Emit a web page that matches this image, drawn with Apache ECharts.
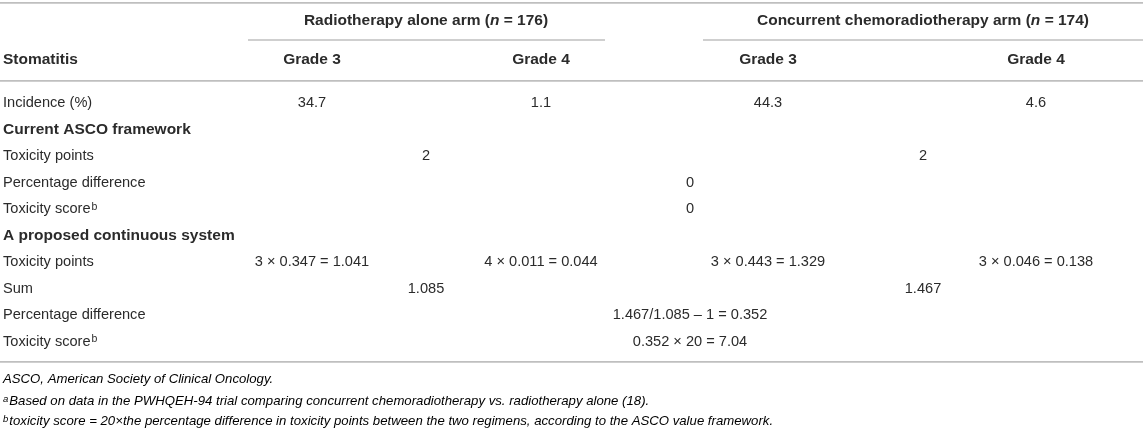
<!DOCTYPE html>
<html>
<head>
<meta charset="utf-8">
<script src="https://cdn.jsdelivr.net/npm/echarts@6/dist/echarts.min.js"></script>
<style>
  html, body { margin: 0; padding: 0; background: #fff; }
  #main { width: 1143px; height: 430px; }
</style>
</head>
<body>
<div id="main"></div>
<script>
// table content
var armTitles = ['Radiotherapy alone arm', 'Concurrent chemoradiotherapy arm'];
var armN = [176, 174];
var grades = ['Grade 3', 'Grade 4', 'Grade 3', 'Grade 4'];
var rowLabels = ['Incidence (%)', 'Current ASCO framework', 'Toxicity points', 'Percentage difference',
  'Toxicity score', 'A proposed continuous system', 'Toxicity points', 'Sum', 'Percentage difference', 'Toxicity score'];
var sectionRows = [1, 5];
var supRows = [4, 9];

var incidence = [34.7, 1.1, 44.3, 4.6];
var ascoPoints = [2, 2];
var ascoPctDiff = 0;
var ascoScore = 0;
var pointWeights = [3, 4, 3, 3];
var incidenceRate = [0.347, 0.011, 0.443, 0.046];
var contPoints = [1.041, 0.044, 1.329, 0.138];
var contSums = [1.085, 1.467];
var contPctDiff = 0.352;
var scoreFactor = 20;
var contScore = 7.04;

// layout (x in units of the hidden value axis)
var colX = [312, 541, 768, 1036];
var armX = [426, 923];
var allX = 690;
var FONT = '"Liberation Sans", Arial, Helvetica, sans-serif';
var TXT = '#2b2b2b';
var RULE = '#bfbfbf';
var FS = 14.6, FSB = 15.5, FSN = 13.2;

// header cells (grid 0) and body cells (grid 1)
var headCells = [];
armTitles.forEach(function (t, a) {
  headCells.push({ row: 0, x: armX[a], text: '{b|' + t + ' (}{bi|n}{b| = ' + armN[a] + ')}' });
});
grades.forEach(function (g, i) {
  headCells.push({ row: 1, x: colX[i], text: '{b|' + g + '}' });
});

var bodyCells = [];
incidence.forEach(function (v, i) { bodyCells.push({ row: 0, x: colX[i], text: v.toFixed(1) }); });
ascoPoints.forEach(function (v, a) { bodyCells.push({ row: 2, x: armX[a], text: String(v) }); });
bodyCells.push({ row: 3, x: allX, text: String(ascoPctDiff) });
bodyCells.push({ row: 4, x: allX, text: String(ascoScore) });
contPoints.forEach(function (p, i) {
  bodyCells.push({ row: 6, x: colX[i], text: pointWeights[i] + ' \u00d7 ' + incidenceRate[i].toFixed(3) + ' = ' + p.toFixed(3) });
});
contSums.forEach(function (s, a) { bodyCells.push({ row: 7, x: armX[a], text: s.toFixed(3) }); });
bodyCells.push({ row: 8, x: allX, text: contSums[1].toFixed(3) + '/' + contSums[0].toFixed(3) + ' \u2013 1 = ' + contPctDiff.toFixed(3) });
bodyCells.push({ row: 9, x: allX, text: contPctDiff.toFixed(3) + ' \u00d7 ' + scoreFactor + ' = ' + contScore.toFixed(2) });

// horizontal rules: [x0, row, x1, offset in bands from row centre]
var headRules = [[0, 0, 1143, -0.45], [248, 0, 605, 0.5], [703, 0, 1143, 0.5], [0, 1, 1143, 0.55]];
var bodyRules = [[0, 9, 1143, 0.75]];

var richText = {
  b: { fontFamily: FONT, fontSize: FSB, fontWeight: 'bold', color: TXT },
  bi: { fontFamily: FONT, fontSize: FSB, fontWeight: 'bold', fontStyle: 'italic', color: TXT },
  t: { fontFamily: FONT, fontSize: FS, color: TXT },
  h: { fontFamily: FONT, fontSize: FSB, fontWeight: 'bold', color: TXT },
  s: { fontFamily: FONT, fontSize: 10.5, color: TXT, verticalAlign: 'top', padding: [0, 0, 5, 1] }
};

function renderCell(cells) {
  return function (params, api) {
    var c = cells[params.dataIndex];
    var p = api.coord([api.value(0), api.value(1)]);
    return {
      type: 'text', x: p[0], y: p[1],
      style: { text: c.text, align: 'center', verticalAlign: 'middle',
        fontFamily: FONT, fontSize: FS, fill: TXT, rich: richText }
    };
  };
}

function renderRule(params, api) {
  var band = api.size([0, 1])[1];
  var a = api.coord([api.value(0), api.value(1)]);
  var b = api.coord([api.value(2), api.value(1)]);
  var y = a[1] + api.value(3) * band;
  return { type: 'line', shape: { x1: a[0], y1: y, x2: b[0], y2: y },
    style: { stroke: RULE, lineWidth: 1.7 } };
}

function labelFmt(v, i) {
  if (sectionRows.indexOf(i) >= 0) return '{h|' + v + '}';
  if (supRows.indexOf(i) >= 0) return '{t|' + v + '}{s|b}';
  return '{t|' + v + '}';
}

function noteRich(extra) {
  var r = {
    i: { fontFamily: FONT, fontSize: FSN, fontStyle: 'italic', color: TXT },
    r: { fontFamily: FONT, fontSize: FSN, fontStyle: 'italic', color: '#7f9fbd' },
    s: { fontFamily: FONT, fontSize: 9.5, fontStyle: 'italic', color: TXT, verticalAlign: 'top', padding: [0, 1, 5, 0] }
  };
  return r;
}

var myChart = echarts.init(document.getElementById('main'));
var option = {
  backgroundColor: '#fff',
  animation: false,
  grid: [
    { left: 0, right: 0, top: 1, height: 78 },
    { left: 0, right: 0, top: 89.7, height: 265.6 }
  ],
  xAxis: [
    { type: 'value', gridIndex: 0, min: 0, max: 1143, show: false },
    { type: 'value', gridIndex: 1, min: 0, max: 1143, show: false }
  ],
  yAxis: [
    { type: 'category', gridIndex: 0, inverse: true, data: ['', 'Stomatitis'],
      axisLine: { show: false }, axisTick: { show: false }, splitLine: { show: false },
      axisLabel: { inside: true, margin: 3, align: 'left', formatter: function (v) { return v ? '{h|' + v + '}' : ''; }, rich: richText } },
    { type: 'category', gridIndex: 1, inverse: true, data: rowLabels,
      axisLine: { show: false }, axisTick: { show: false }, splitLine: { show: false },
      axisLabel: { inside: true, margin: 3, align: 'left', formatter: labelFmt, rich: richText } }
  ],
  series: [
    { type: 'custom', xAxisIndex: 0, yAxisIndex: 0, clip: false, silent: true,
      data: headRules, renderItem: renderRule },
    { type: 'custom', xAxisIndex: 1, yAxisIndex: 1, clip: false, silent: true,
      data: bodyRules, renderItem: renderRule },
    { type: 'custom', xAxisIndex: 0, yAxisIndex: 0, clip: false, silent: true,
      data: headCells.map(function (c) { return [c.x, c.row]; }), renderItem: renderCell(headCells) },
    { type: 'custom', xAxisIndex: 1, yAxisIndex: 1, clip: false, silent: true,
      data: bodyCells.map(function (c) { return [c.x, c.row]; }), renderItem: renderCell(bodyCells) }
  ],
  graphic: [
    { type: 'text', left: 3, top: 373, style: { text: '{i|ASCO, American Society of Clinical Oncology.}', rich: noteRich() } },
    { type: 'text', left: 3, top: 394, style: {
      text: '{s|a}{i|Based on data in the PWHQEH-94 trial comparing concurrent chemoradiotherapy vs. radiotherapy alone }{r|(18)}{i|.}',
      rich: noteRich() } },
    { type: 'text', left: 3, top: 414, style: {
      text: '{s|b}{i|toxicity score = 20\u00d7the percentage difference in toxicity points between the two regimens, according to the ASCO value framework.}',
      rich: noteRich() } }
  ]
};
myChart.setOption(option);
</script>
</body>
</html>
